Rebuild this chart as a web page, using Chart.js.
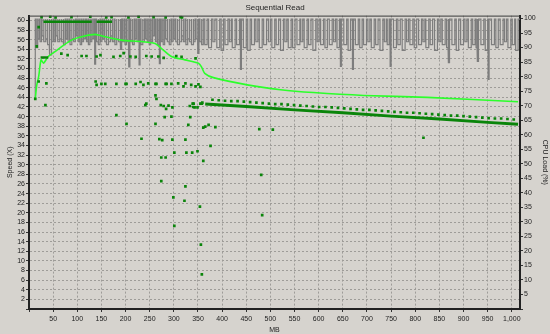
<!DOCTYPE html>
<html lang="en">
<head>
<meta charset="UTF-8">
<title>Sequential Read</title>
<script src="https://cdn.jsdelivr.net/npm/chart.js@4.4.1/dist/chart.umd.min.js"></script>
<style>
    html, body { margin: 0; padding: 0; background: #d6d3ce; }
    .chart-box { position: relative; width: 550px; height: 334px; }
</style>
</head>
<body>
<div class="chart-box"><canvas id="speedChart"></canvas></div>
<script>
// read speed curve (bright green), MB -> X
const curveMB    = [13, 16, 20, 25, 30, 40, 54, 67, 88, 109, 137, 158, 191, 233, 261, 274, 295, 323, 351, 357, 364, 382, 452, 521, 589, 693, 825, 1013];
const curveSpeed = [43.7, 46.5, 48.3, 51.8, 51.1, 52.5, 53.5, 54.5, 55.9, 56.6, 57.1, 56.6, 55.9, 55.6, 55.2, 54.2, 52.5, 51.8, 51.1, 50.4, 49.0, 48.1, 46.6, 45.6, 45.0, 44.4, 44.0, 43.1];

// dense band of samples near the top
const bandMB    = [30, 130, 135, 140, 172];
const bandSpeed = [59.7, 59.7, null, 59.7, 59.7];
const lowBandMB    = [24, 40];
const lowBandSpeed = [52.3, 52.3];

// scattered samples (dark green squares)
const pointMB = [26, 44, 55, 88, 127, 160, 171, 206, 227, 258, 283, 314, 317, 16, 20,
    67, 80, 109, 119, 140, 148, 175, 189, 196, 210, 221, 243, 254, 268, 279, 305, 316, 345,
    20, 36, 138, 140, 150, 158, 181, 200, 202, 221, 231, 237, 247, 262, 264, 283, 285, 295, 309, 320, 324, 336, 345, 351, 355,
    13, 34, 241, 243, 262, 264, 273, 279, 284, 289, 297, 333, 339, 340, 341, 343, 349, 355, 358, 359,
    181, 202, 262, 281, 295, 330, 334, 361, 365, 372, 386,
    233, 270, 276, 297, 324, 376, 817, 477, 505,
    274, 283, 301, 326, 338, 349, 361,
    274, 324, 299, 322, 354, 301, 356, 358, 481, 483];
const pointSpeed = [60.7, 60.8, 60.6, 60.7, 60.8, 60.6, 60.7, 60.6, 60.8, 60.7, 60.6, 60.7, 60.6, 54.6, 58.6,
    53.1, 52.8, 52.6, 52.6, 52.5, 52.8, 52.4, 52.6, 53.2, 52.5, 52.4, 52.6, 52.5, 52.5, 52.2, 52.6, 52.4, 52.1,
    47.3, 46.9, 47.3, 46.6, 46.8, 46.8, 46.8, 46.8, 46.8, 46.8, 47.2, 46.6, 46.9, 46.8, 46.8, 46.8, 46.8, 46.8, 46.9, 46.3, 46.9, 46.6, 46.3, 46.7, 46.2,
    43.7, 42.4, 42.4, 42.7, 44.4, 43.7, 42.4, 42.2, 41.6, 42.3, 41.9, 42.2, 42.7, 42.0, 42.7, 41.9, 41.9, 42.7, 42.7, 42.9,
    40.3, 38.5, 38.5, 39.9, 40.0, 38.3, 39.9, 37.7, 37.9, 38.3, 37.8,
    35.4, 35.3, 35.1, 35.2, 35.2, 33.9, 35.6, 37.4, 37.3,
    31.5, 31.5, 32.5, 32.5, 32.5, 32.8, 30.8,
    26.6, 25.5, 23.2, 22.5, 21.3, 17.3, 13.4, 7.2, 27.9, 19.5];

// dotted row of samples after the layer change
const dotMB = [380, 393, 406, 419, 432, 445, 458, 471, 484, 497, 510, 523, 536, 549, 562, 575, 588,
    601, 614, 627, 640, 653, 666, 679, 692, 705, 718, 731, 744, 757, 770, 783, 796,
    809, 822, 835, 848, 861, 874, 887, 900, 913, 926, 939, 952, 965, 978, 991, 1004];
const dotSpeed = [43.5, 43.4, 43.3, 43.2, 43.2, 43.1, 43.0, 42.9, 42.8, 42.7, 42.6, 42.6, 42.5, 42.4, 42.3, 42.2, 42.1,
    42.0, 42.0, 41.9, 41.8, 41.7, 41.6, 41.5, 41.4, 41.4, 41.3, 41.2, 41.1, 41.0, 40.9, 40.8, 40.8,
    40.7, 40.6, 40.5, 40.4, 40.3, 40.2, 40.2, 40.1, 40.0, 39.9, 39.8, 39.7, 39.6, 39.6, 39.5, 39.4];

// thick solid row
const solidMB    = [365, 450, 550, 650, 750, 850, 950, 1013];
const solidSpeed = [42.6, 42.1, 41.4, 40.8, 40.1, 39.5, 38.8, 38.4];

// CPU load (gray): sits near 100 % and keeps dropping; [startMB, endMB, low %]
const cpuBase = 99.8;
const cpuDips = [
    [15, 18, 90], [19, 22, 93], [23, 26, 92], [27, 30, 94], [31, 34, 92], [35, 38, 93], [39, 42, 91], [43, 46, 87.5],
    [47, 50, 92], [52, 55, 92], [56, 59, 94], [60, 63, 92], [64, 67, 93], [68, 71, 92], [72, 75, 91], [77, 80, 93],
    [81, 84, 92], [85, 88, 91], [89, 92, 93], [93, 96, 92], [98, 101, 94], [102, 105, 92], [106, 109, 91], [110, 113, 92],
    [114, 117, 93], [119, 122, 92], [123, 126, 91], [127, 130, 92], [131, 134, 93], [136, 138, 84.3], [140, 143, 92], [144, 147, 91],
    [148, 151, 92], [152, 155, 93], [157, 160, 92], [161, 164, 91], [165, 168, 92], [169, 172, 94], [173, 176, 92], [178, 181, 91],
    [182, 185, 93], [186, 189, 92], [190, 192, 89.4], [194, 197, 92], [199, 202, 91], [203, 206, 92], [207, 209, 83.3], [211, 214, 92],
    [215, 218, 91], [220, 223, 93], [224, 227, 92], [228, 230, 84], [232, 235, 91], [236, 239, 92], [241, 244, 93], [245, 248, 92],
    [249, 252, 91], [253, 256, 92], [257, 260, 94], [262, 265, 92], [266, 269, 91], [270, 272, 84.5], [274, 277, 92], [278, 281, 91],
    [283, 286, 93], [287, 290, 92], [291, 294, 91], [295, 298, 92], [299, 302, 93], [304, 307, 92], [308, 311, 91], [312, 315, 92],
    [316, 319, 94], [320, 323, 92], [325, 328, 91], [329, 332, 93], [333, 336, 92], [337, 340, 91], [341, 344, 92], [346, 349, 93],
    [350, 352, 88], [354, 357, 92], [358, 361, 91],
    [364, 369, 91], [372, 378, 90], [381, 385, 92], [389, 395, 90], [398, 403, 89], [406, 412, 91], [415, 419, 92], [421, 427, 90],
    [430, 436, 91], [438, 440, 82.5], [444, 450, 90], [453, 458, 89], [461, 467, 91], [470, 474, 92], [477, 483, 90], [486, 492, 91],
    [496, 500, 92], [503, 509, 90], [512, 517, 91], [521, 527, 89], [530, 534, 92], [537, 543, 90], [546, 551, 90], [555, 561, 91],
    [563, 567, 92], [570, 576, 90], [579, 584, 91], [588, 594, 89], [597, 601, 92], [604, 610, 91], [613, 618, 90], [622, 628, 91],
    [631, 635, 92], [638, 643, 90], [645, 647, 83.5], [652, 658, 91], [661, 666, 89], [670, 672, 82.5], [676, 682, 91], [685, 690, 90],
    [693, 699, 91], [702, 706, 92], [709, 715, 90], [718, 723, 91], [727, 733, 89], [736, 740, 92], [742, 746, 91], [748, 750, 83.5],
    [755, 761, 90], [764, 769, 91], [773, 779, 89], [782, 786, 92], [789, 795, 91], [798, 803, 90], [807, 813, 91], [816, 820, 92],
    [822, 828, 90], [831, 836, 91], [840, 846, 89], [849, 853, 92], [856, 862, 91], [865, 868, 90], [869, 871, 84.8], [876, 882, 91],
    [885, 890, 89], [894, 900, 91], [903, 907, 92], [910, 916, 90], [919, 924, 91], [926, 928, 90], [929, 931, 85.2], [936, 942, 91],
    [945, 950, 89], [951, 953, 79], [958, 964, 91], [967, 972, 90], [976, 982, 91], [985, 989, 92], [992, 998, 90], [1001, 1006, 91],
    [1008, 1013, 89]
];

const xy = (xs, ys) => xs.map((x, i) => ({ x: x, y: ys[i] }));

// build the cpu trace from the drops
const cpuData = [{ x: 13, y: 72 }, { x: 13, y: cpuBase }];
cpuDips.forEach(([s, e, low]) => {
    cpuData.push({ x: s, y: cpuBase }, { x: s, y: low }, { x: e, y: low }, { x: e, y: cpuBase });
});
cpuData.push({ x: 1017, y: cpuBase });

const FONT = "'Liberation Sans Narrow', 'Liberation Sans', Arial, sans-serif";
const tickFont = { family: FONT, size: 7 };
const darkGreen = '#0a850a';

// top frame line (scales only draw left, right, bottom)
const frameTop = {
    id: 'frameTop',
    afterDraw(chart) {
        const { ctx, chartArea: a } = chart;
        ctx.save();
        ctx.strokeStyle = '#3a3a3a';
        ctx.lineWidth = 1;
        ctx.beginPath();
        ctx.moveTo(a.left, a.top + 0.5);
        ctx.lineTo(a.right, a.top + 0.5);
        ctx.stroke();
        ctx.restore();
    }
};

new Chart(document.getElementById('speedChart'), {
    type: 'scatter',
    data: {
        datasets: [
            { type: 'line', data: cpuData, yAxisID: 'y1', borderColor: '#7d7d7d', borderWidth: 1.2,
              pointRadius: 0, tension: 0, order: 6 },
            { type: 'line', data: xy(curveMB, curveSpeed), borderColor: '#2bff2b', borderWidth: 1.6,
              pointRadius: 0, tension: 0.25, order: 5 },
            { type: 'line', data: xy(bandMB, bandSpeed), borderColor: darkGreen, borderWidth: 2.5,
              pointRadius: 0, spanGaps: false, order: 4 },
            { type: 'line', data: xy(lowBandMB, lowBandSpeed), borderColor: darkGreen, borderWidth: 2.5,
              pointRadius: 0, order: 4 },
            { type: 'line', data: xy(solidMB, solidSpeed), borderColor: darkGreen, borderWidth: 3,
              pointRadius: 0, order: 3 },
            { data: xy(dotMB, dotSpeed), pointStyle: 'rect', pointRadius: 1.9, borderWidth: 0,
              backgroundColor: darkGreen, order: 2 },
            { data: xy(pointMB, pointSpeed), pointStyle: 'rect', pointRadius: 1.9, borderWidth: 0,
              backgroundColor: darkGreen, order: 1 }
        ]
    },
    options: {
        responsive: true,
        maintainAspectRatio: false,
        animation: false,
        devicePixelRatio: 1,
        layout: { padding: 0 },
        plugins: {
            legend: { display: false },
            tooltip: { enabled: false },
            title: { display: true, text: 'Sequential Read', color: '#1e1e1e',
                     font: { family: FONT, size: 8, weight: 'normal' }, padding: { top: 3, bottom: 3 } }
        },
        scales: {
            x: {
                type: 'linear', position: 'bottom', min: 0, max: 1017,
                ticks: { stepSize: 50, includeBounds: false, autoSkip: false, maxRotation: 0, padding: 3,
                         color: '#222', font: tickFont,
                         callback: v => v === 0 ? '' : v.toLocaleString('en-US') },
                grid: { color: '#9e9c98', lineWidth: 1, tickLength: 3, tickColor: '#333' },
                border: { color: '#222', width: 2, dash: [2, 2] },
                title: { display: true, text: 'MB', color: '#222', font: tickFont, padding: 0 },
                afterFit: s => { s.height = 25; }
            },
            y: {
                position: 'left', min: 0, max: 61,
                ticks: { stepSize: 2, includeBounds: false, autoSkip: false, padding: 1, color: '#222', font: tickFont,
                         callback: v => v === 0 ? '' : v },
                grid: { color: '#9e9c98', lineWidth: 1, tickLength: 3, tickColor: '#333' },
                border: { color: '#222', width: 2, dash: [2, 2] },
                title: { display: true, text: 'Speed (X)', color: '#222', font: tickFont, padding: { top: 6, bottom: 0 } },
                afterFit: s => { s.width = 29; }
            },
            y1: {
                position: 'right', min: 0, max: 101,
                ticks: { stepSize: 5, includeBounds: false, autoSkip: false, padding: 1, color: '#222', font: tickFont,
                         callback: v => v === 0 ? '' : v },
                grid: { drawOnChartArea: false, tickLength: 3, tickColor: '#333' },
                border: { color: '#222', width: 2 },
                title: { display: true, text: 'CPU Load (%)', color: '#222', font: tickFont, padding: { top: 1, bottom: 0 } },
                afterFit: s => { s.width = 30; }
            }
        }
    },
    plugins: [frameTop]
});
</script>
</body>
</html>
